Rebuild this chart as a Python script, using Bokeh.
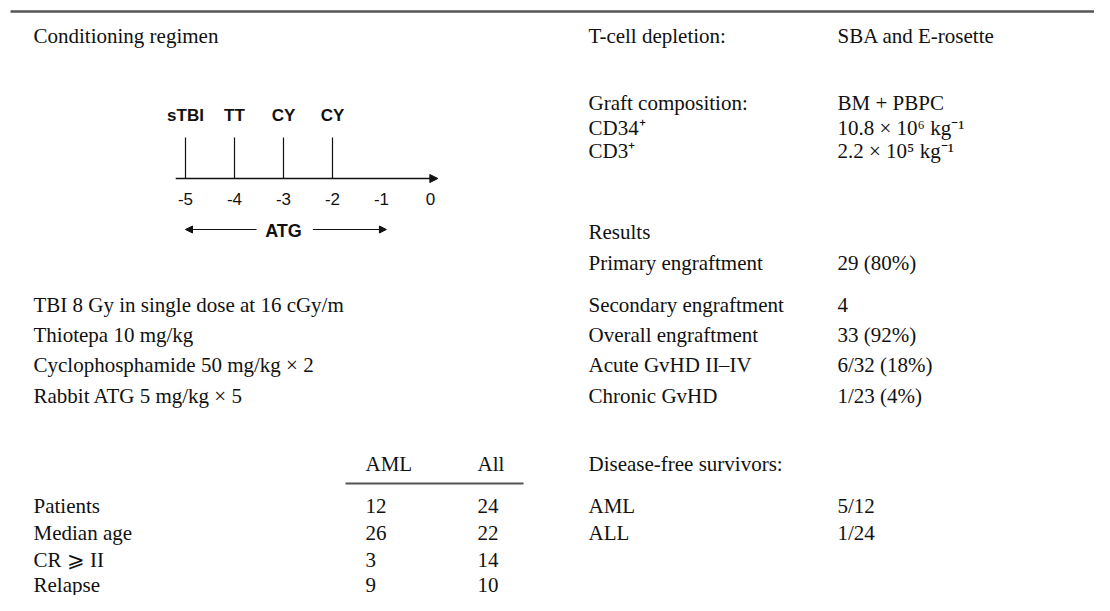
from bokeh.plotting import figure
from bokeh.models import Range1d, Arrow, NormalHead
from bokeh.core.properties import value
from bokeh.embed import file_html
from bokeh.resources import INLINE

# ---------------- data ----------------
regimen_title = "Conditioning regimen"
event_labels = ["sTBI", "TT", "CY", "CY"]
event_days = [-5, -4, -3, -2]
day_ticks = [-5, -4, -3, -2, -1, 0]
atg_label = "ATG"
atg_days = [-5, -1]

regimen_lines = [
    "TBI 8 Gy in single dose at 16 cGy/m",
    "Thiotepa 10 mg/kg",
    "Cyclophosphamide 50 mg/kg × 2",
    "Rabbit ATG 5 mg/kg × 5",
]

patient_cols = ["AML", "All"]
patient_rows = ["Patients", "Median age", "CR ⩾ II", "Relapse"]
patient_aml = ["12", "26", "3", "9"]
patient_all = ["24", "22", "14", "10"]

tcell_label = "T-cell depletion:"
tcell_value = "SBA and E-rosette"
graft_labels = ["Graft composition:", "CD34⁺", "CD3⁺"]
graft_values = ["BM + PBPC", "10.8 × 10⁶ kg⁻¹", "2.2 × 10⁵ kg⁻¹"]

results_title = "Results"
results_labels = ["Primary engraftment", "Secondary engraftment", "Overall engraftment",
                  "Acute GvHD II–IV", "Chronic GvHD"]
results_values = ["29 (80%)", "4", "33 (92%)", "6/32 (18%)", "1/23 (4%)"]

dfs_title = "Disease-free survivors:"
dfs_labels = ["AML", "ALL"]
dfs_values = ["5/12", "1/24"]

# ---------------- layout ----------------
W, H = 1094, 595
p = figure(width=W, height=H, output_backend="svg", toolbar_location=None,
           x_range=Range1d(0, W), y_range=Range1d(H, 0),
           min_border=0, outline_line_color=None, background_fill_color="white")
p.axis.visible = False
p.grid.visible = False

# day scale for the timeline diagram (49 px per day, day 0 at x=430)
px_per_day = 49.0
day0 = 430.0
p.extra_x_ranges["days"] = Range1d(-day0 / px_per_day, (W - day0) / px_per_day)

SERIF = value("Liberation Serif")
SANS = value("Liberation Sans")
FS = "21px"
INK = "#111111"
RULE = "#555555"


def txt(xs, ys, texts, font=SERIF, size=FS, align="left", style="normal", **kw):
    p.text(x=xs, y=ys, text=texts, text_font=font, text_font_size=size,
           text_align=align, text_baseline="middle", text_color=INK,
           text_font_style=style, **kw)


# top rule
p.segment(x0=[10], y0=[11], x1=[W], y1=[11], line_color=RULE, line_width=2.5)

# left column
LX = 33
txt([LX], [35], [regimen_title])

# timeline diagram
ax_y = 178
p.segment(x0=event_days, y0=[137] * 4, x1=event_days, y1=[ax_y] * 4,
          line_color=INK, line_width=1.2, x_range_name="days")
txt(event_days, [115] * 4, event_labels, font=SANS, size="17px", align="center",
    style="bold", x_range_name="days")
p.add_layout(Arrow(end=NormalHead(size=8, fill_color=INK, line_color=INK),
                   x_start=day_ticks[0] - 0.2, y_start=ax_y,
                   x_end=day_ticks[-1] + 0.15, y_end=ax_y,
                   line_color=INK, line_width=1.5, x_range_name="days"))
txt(day_ticks, [198] * len(day_ticks), [str(d) for d in day_ticks], font=SANS,
    size="17px", align="center", x_range_name="days")
atg_mid = (atg_days[0] + atg_days[1]) / 2
txt([atg_mid], [230], [atg_label], font=SANS, size="18px", align="center",
    style="bold", x_range_name="days")
p.add_layout(Arrow(end=NormalHead(size=7, fill_color=INK, line_color=INK),
                   x_start=atg_mid - 0.55, y_start=229, x_end=atg_days[0], y_end=229,
                   line_color=INK, line_width=1.2, x_range_name="days"))
p.add_layout(Arrow(end=NormalHead(size=7, fill_color=INK, line_color=INK),
                   x_start=atg_mid + 0.6, y_start=229, x_end=atg_days[1] + 0.1, y_end=229,
                   line_color=INK, line_width=1.2, x_range_name="days"))

reg_y = [304, 334, 364, 395]
txt([LX] * 4, reg_y, regimen_lines)

# patients table
C1, C2 = 365, 477
txt([C1, C2], [463, 463], patient_cols)
p.segment(x0=[345], y0=[483], x1=[523], y1=[483], line_color=RULE, line_width=2)
pat_y = [505, 532, 559, 584]
txt([LX] * 4, pat_y, patient_rows)
txt([C1] * 4, pat_y, patient_aml)
txt([C2] * 4, pat_y, patient_all)

# right column
RX, VX = 588, 837
txt([RX], [35], [tcell_label])
txt([VX], [35], [tcell_value])
g_y = [102, 127, 150]
txt([RX] * 3, g_y, graft_labels)
txt([VX] * 3, g_y, graft_values)

txt([RX], [231], [results_title])
r_y = [262, 304, 334, 364, 395]
txt([RX] * 5, r_y, results_labels)
txt([VX] * 5, r_y, results_values)

txt([RX], [463], [dfs_title])
d_y = [505, 532]
txt([RX] * 2, d_y, dfs_labels)
txt([VX] * 2, d_y, dfs_values)

open("out.html", "w").write(file_html(p, INLINE))
